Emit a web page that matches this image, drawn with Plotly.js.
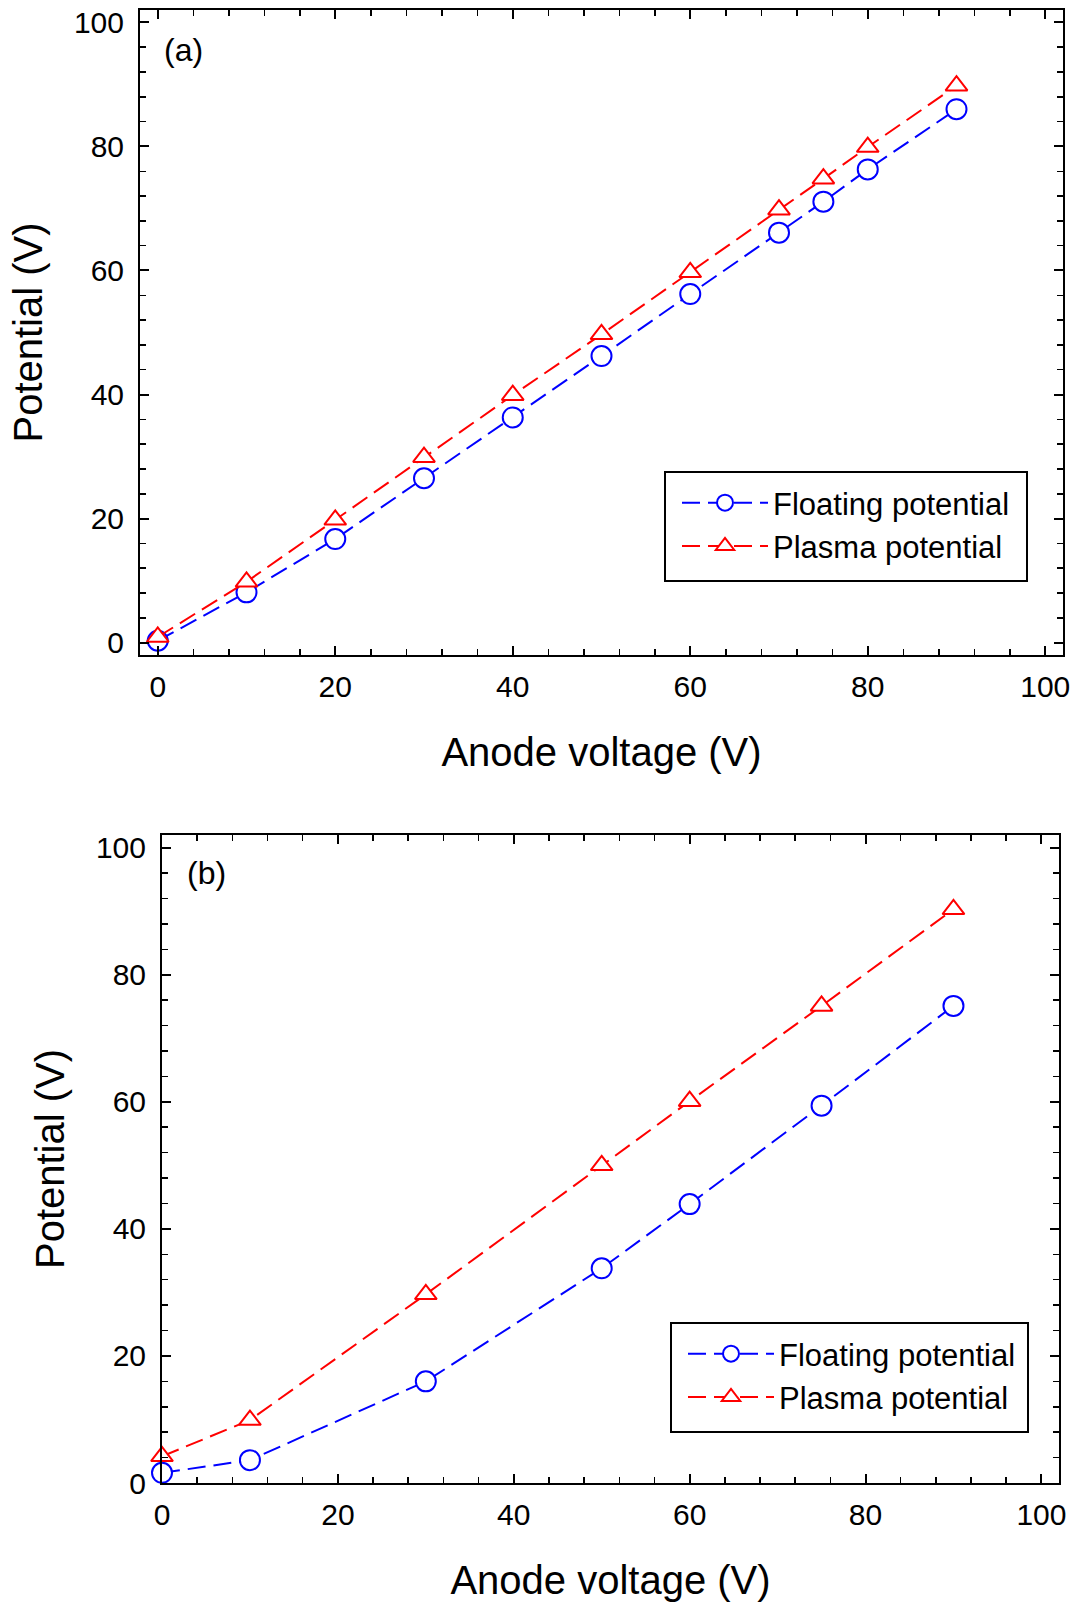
<!DOCTYPE html>
<html>
<head>
<meta charset="utf-8">
<script src="https://cdn.plot.ly/plotly-3.0.1.min.js"></script>
<style>
  html, body { margin: 0; padding: 0; background: #ffffff; }
  #chart { width: 1075px; height: 1602px; }
</style>
</head>
<body>
<div id="chart"></div>
<script>
// ---- Data ----
const anodeVoltageA = [0, 10, 20, 30, 40, 50, 60, 70, 75, 80, 90];
const floatingA     = [0.3, 8.1, 16.7, 26.5, 36.3, 46.2, 56.2, 66.1, 71.1, 76.3, 86.0];
const plasmaA       = [0.9, 9.8, 19.8, 29.9, 39.9, 49.7, 59.7, 69.8, 74.8, 79.9, 89.8];

const anodeVoltageB = [0, 10, 30, 50, 60, 75, 90];
const floatingB     = [1.6, 3.6, 16.0, 33.8, 43.9, 59.4, 75.1];
const plasmaB       = [4.2, 9.9, 29.7, 50.0, 60.1, 75.1, 90.3];

const seriesNames = ["Floating potential", "Plasma potential"];
const panelLabels = ["(a)", "(b)"];
const xTitle = "Anode voltage (V)";
const yTitle = "Potential (V)";

// ---- Styles ----
const FONT = "Arial, 'Liberation Sans', Helvetica, sans-serif";
const BLUE = "#0000ff";
const RED = "#ff0000";
const DASH = "18px,8px";

function seriesTrace(x, y, name, color, symbol, xa, ya, legend) {
  return {
    type: "scatter",
    mode: "lines+markers",
    x: x, y: y, name: name,
    xaxis: xa, yaxis: ya, legend: legend, showlegend: true,
    line: { color: color, width: 2, dash: DASH },
    marker: {
      symbol: symbol,
      size: symbol === "circle" ? 20 : 19,
      color: "#ffffff",
      line: { color: color, width: 2 }
    },
    cliponaxis: false
  };
}

const traces = [
  seriesTrace(anodeVoltageA, floatingA, seriesNames[0], BLUE, "circle", "x", "y", "legend"),
  seriesTrace(anodeVoltageA, plasmaA, seriesNames[1], RED, "triangle-up", "x", "y", "legend"),
  seriesTrace(anodeVoltageB, floatingB, seriesNames[0], BLUE, "circle", "x2", "y2", "legend2"),
  seriesTrace(anodeVoltageB, plasmaB, seriesNames[1], RED, "triangle-up", "x2", "y2", "legend2")
];

const W = 1075, H = 1602;
function px(v) { return v / W; }
function py(v) { return 1 - v / H; }

function axisBase(range, domain, anchor, titleText, standoff, labelGap) {
  return {
    range: range,
    domain: domain,
    anchor: anchor,
    showgrid: false,
    zeroline: false,
    showline: true,
    linecolor: "#000000",
    linewidth: 2,
    mirror: "ticks",
    ticks: "inside",
    ticklen: 9,
    tickwidth: 2,
    tickcolor: "#000000",
    tick0: 0,
    dtick: 20,
    ticklabelstandoff: labelGap,
    minor: { ticks: "inside", dtick: 4, tick0: 0, ticklen: 6, tickwidth: 1.5, tickcolor: "#000000", showgrid: false },
    tickfont: { family: FONT, size: 30, color: "#000000" },
    title: { text: titleText, font: { family: FONT, size: 40, color: "#000000" }, standoff: standoff },
    automargin: false,
    fixedrange: true
  };
}

function legendBox(x0, y0, x1, y1) {
  return {
    type: "rect", xref: "paper", yref: "paper",
    x0: px(x0), x1: px(x1), y0: py(y1), y1: py(y0),
    line: { color: "#000000", width: 2 }, fillcolor: "rgba(0,0,0,0)", layer: "above"
  };
}

function legendCfg(left, top) {
  return {
    x: px(left), y: py(top), xanchor: "left", yanchor: "top",
    bgcolor: "rgba(0,0,0,0)", borderwidth: 0,
    font: { family: FONT, size: 31, color: "#000000" },
    itemwidth: 86, tracegroupgap: 0
  };
}

const layout = {
  width: W,
  height: H,
  margin: { l: 0, r: 0, t: 0, b: 0, pad: 0 },
  paper_bgcolor: "#ffffff",
  plot_bgcolor: "#ffffff",
  font: { family: FONT, color: "#000000" },
  xaxis:  axisBase([-2, 102], [px(140), px(1063)], "y",  xTitle, 36, 4),
  yaxis:  axisBase([-2, 102], [py(655), py(10)],   "x",  yTitle, 19, 8),
  xaxis2: axisBase([0, 102],  [px(162), px(1059)], "y2", xTitle, 36, 4),
  yaxis2: axisBase([0, 102],  [py(1483), py(835)], "x2", yTitle, 19, 8),
  legend: legendCfg(677, 476),
  legend2: legendCfg(683, 1327),
  shapes: [
    legendBox(665, 472, 1027, 581),
    legendBox(671, 1323, 1028, 1432)
  ],
  annotations: [
    { text: panelLabels[0], xref: "paper", yref: "paper", x: px(162), y: py(50), xanchor: "left", yanchor: "middle", showarrow: false, font: { family: FONT, size: 32, color: "#000000" } },
    { text: panelLabels[1], xref: "paper", yref: "paper", x: px(185), y: py(873), xanchor: "left", yanchor: "middle", showarrow: false, font: { family: FONT, size: 32, color: "#000000" } }
  ],
  showlegend: true
};

Plotly.newPlot("chart", traces, layout, { displayModeBar: false, staticPlot: true });
</script>
</body>
</html>
